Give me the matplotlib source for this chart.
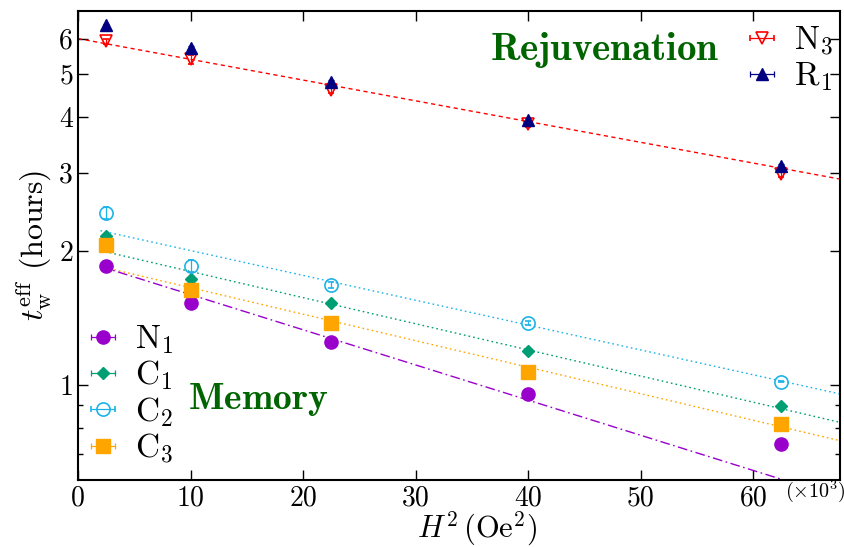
import matplotlib
matplotlib.use('Agg')
import matplotlib.pyplot as plt
import numpy as np
from matplotlib.container import ErrorbarContainer
from matplotlib.legend_handler import HandlerErrorbar
from matplotlib.ticker import NullFormatter

plt.rcParams['font.family'] = 'serif'
plt.rcParams['font.serif'] = ['cmr10']
plt.rcParams['mathtext.fontset'] = 'cm'
plt.rcParams['axes.unicode_minus'] = False

# H^2 in units of 10^3 Oe^2 (H = 50, 100, 150, 200, 250 Oe)
h2 = [2.5, 10, 22.5, 40, 62.5]

# effective waiting times [hours]
n3 = [5.91, 5.39, 4.60, 3.85, 2.98]
n3_err = [0.08, 0.12, 0.08, 0.06, 0.05]
r1 = [6.42, 5.71, 4.80, 3.93, 3.11]
r1_err = [0.05, 0.05, 0.04, 0.04, 0.03]
n1 = [1.845, 1.526, 1.251, 0.953, 0.736]
n1_err = [0.02, 0.02, 0.015, 0.01, 0.01]
c1 = [2.16, 1.73, 1.53, 1.194, 0.897]
c1_err = [0.02, 0.02, 0.015, 0.01, 0.01]
c2 = [2.435, 1.85, 1.678, 1.376, 1.017]
c2_err = [0.075, 0.06, 0.026, 0.013, 0.004]
c3 = [2.064, 1.635, 1.38, 1.066, 0.817]
c3_err = [0.02, 0.02, 0.015, 0.01, 0.01]

# exponential fits t = A exp(-b H^2): (A, b, x range)
fit_n3 = (6.0, 0.01074, (0, 68))
fit_c2 = (2.278, 0.01286, (2, 68))
fit_c1 = (2.058, 0.01353, (2, 68))
fit_c3 = (1.896, 0.01372, (2, 68))
fit_n1 = (1.913, 0.0182, (2, 68))

fig = plt.figure(figsize=(8.45, 5.47), dpi=100)
ax = fig.add_axes([0.0923, 0.1225, 0.9017, 0.8574])


def fit_line(fit, color, **kw):
    a, b, (x0, x1) = fit
    xx = np.linspace(x0, x1, 200)
    ax.plot(xx, a * np.exp(-b * xx), color=color, lw=1, **kw)


fit_line(fit_n3, 'red', dashes=(3, 2.5))
fit_line(fit_c2, '#1DB3E8', dashes=(1.2, 2.2))
fit_line(fit_c1, '#009E73', dashes=(1.2, 2.2))
fit_line(fit_c3, '#FFA500', dashes=(1.2, 2.2))
fit_line(fit_n1, '#9900CC', dashes=(7, 2.5, 1.2, 2.5))

ekw = dict(ls='none', capsize=2.5, elinewidth=0.9, capthick=0.9)
e_n1 = ax.errorbar(h2, n1, yerr=n1_err, fmt='o', ms=9.5, color='#9900CC', **ekw)
e_c1 = ax.errorbar(h2, c1, yerr=c1_err, fmt='D', ms=6.3, color='#009E73', **ekw)
e_c2 = ax.errorbar(h2, c2, yerr=c2_err, fmt='o', ms=9.5, color='#1DB3E8',
                   mfc='none', mew=1.2, **ekw)
e_c3 = ax.errorbar(h2, c3, yerr=c3_err, fmt='s', ms=10, color='#FFA500', **ekw)
e_n3 = ax.errorbar(h2, n3, yerr=n3_err, fmt='v', ms=9, color='red',
                   mfc='none', mew=1.2, **ekw)
e_r1 = ax.errorbar(h2, r1, yerr=r1_err, fmt='^', ms=8.5, color='navy', **ekw)


def leg_handle(c):
    return ErrorbarContainer(c.lines, has_xerr=True, has_yerr=False)


hmap = {ErrorbarContainer: HandlerErrorbar(xerr_size=0.35)}
leg1 = ax.legend([leg_handle(e_n3), leg_handle(e_r1)],
                 [r'$\mathrm{N}_3$', r'$\mathrm{R}_1$'],
                 loc='upper right', bbox_to_anchor=(0.997, 0.982),
                 frameon=False, fontsize=24,
                 handlelength=1.1, handletextpad=0.4, labelspacing=0.1,
                 borderaxespad=0.0, borderpad=0.15, handler_map=hmap)
ax.add_artist(leg1)
ax.legend([leg_handle(e_n1), leg_handle(e_c1), leg_handle(e_c2), leg_handle(e_c3)],
          [r'$\mathrm{N}_1$', r'$\mathrm{C}_1$', r'$\mathrm{C}_2$', r'$\mathrm{C}_3$'],
          loc='lower left', bbox_to_anchor=(0.0, 0.017),
          frameon=False, fontsize=24,
          handlelength=1.1, handletextpad=0.4, labelspacing=0.08,
          borderaxespad=0.0, borderpad=0.2, handler_map=hmap)

ax.text(46.8, 5.66, r'$\mathbf{Rejuvenation}$', color='#006400', fontsize=28,
        ha='center', va='center')
ax.text(16.0, 0.925, r'$\mathbf{Memory}$', color='#006400', fontsize=27,
        ha='center', va='center')

ax.set_yscale('log')
ax.set_xlim(0, 67.7)
ax.set_ylim(0.611, 6.92)
ax.set_xticks([0, 10, 20, 30, 40, 50, 60])
ax.set_yticks([1, 2, 3, 4, 5, 6])
ax.set_yticklabels(['1', '2', '3', '4', '5', '6'])
ax.set_yticks([0.7, 0.8, 0.9], minor=True)
ax.yaxis.set_minor_formatter(NullFormatter())
ax.tick_params(which='both', direction='in', top=True, right=True, labelsize=20)
ax.tick_params(which='major', length=7, width=1)
ax.tick_params(which='minor', length=3.5, width=1)
for s in ax.spines.values():
    s.set_linewidth(1.5)

ax.text(0.968, -0.023, r'$(\times10^3)$', transform=ax.transAxes,
        ha='center', va='center', fontsize=14.5)
ax.set_xlabel(r'$H^2\,(\mathrm{Oe}^2)$', fontsize=22)
ax.xaxis.set_label_coords(0.524, -0.062)
ax.set_ylabel(r'$t_{\rm w}^{\rm eff}$ (hours)', fontsize=23, labelpad=4)

fig.savefig('out.png', dpi=100)
